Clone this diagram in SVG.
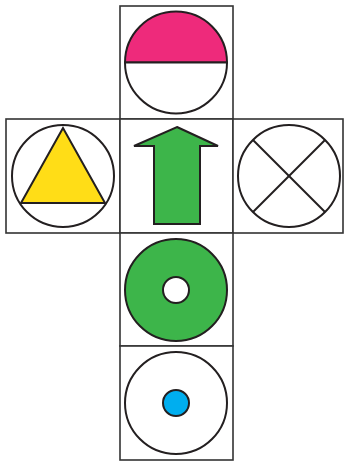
<svg xmlns="http://www.w3.org/2000/svg" width="344" height="461" viewBox="0 0 344 461">
<style>
.cell{fill:#fff;stroke:#333;stroke-width:1.6}
.ln{stroke:#231f20;stroke-width:2;fill:none}
.sh{stroke:#231f20;stroke-width:2}
</style>
<rect width="344" height="461" fill="#fff"/>
<g id="face-top">
<rect class="cell" x="120" y="6" width="113" height="113"/>
<path class="sh" d="M125,62.5 A51,51 0 0 1 227,62.5 Z" fill="#ee2a7b"/>
<path class="sh" d="M125,62.5 A51,51 0 0 0 227,62.5 Z" fill="#fff"/>
</g>
<g id="face-left">
<rect class="cell" x="6" y="119" width="114" height="114"/>
<circle class="ln" cx="63" cy="176" r="51"/>
<polygon class="sh" points="63,128 21,203 105,203" fill="#ffdd17" stroke-linejoin="miter"/>
</g>
<g id="face-center">
<rect class="cell" x="120" y="119" width="113" height="114"/>
<polygon class="sh" points="177,127 218,146 200,146 200,224 154,224 154,146 134,146" fill="#3db54a"/>
</g>
<g id="face-right">
<rect class="cell" x="233" y="119" width="110" height="114"/>
<circle class="ln" cx="289" cy="176" r="51"/>
<line class="ln" x1="253" y1="140" x2="325" y2="212"/>
<line class="ln" x1="325" y1="140" x2="253" y2="212"/>
</g>
<g id="face-bottom1">
<rect class="cell" x="120" y="233" width="113" height="113"/>
<circle class="sh" cx="176" cy="290" r="51" fill="#3db54a"/>
<circle class="sh" cx="176" cy="290" r="13" fill="#fff"/>
</g>
<g id="face-bottom2">
<rect class="cell" x="120" y="346" width="113" height="114"/>
<circle class="ln" cx="176" cy="403" r="51"/>
<circle class="sh" cx="176" cy="403" r="13" fill="#00aeef"/>
</g>
</svg>
